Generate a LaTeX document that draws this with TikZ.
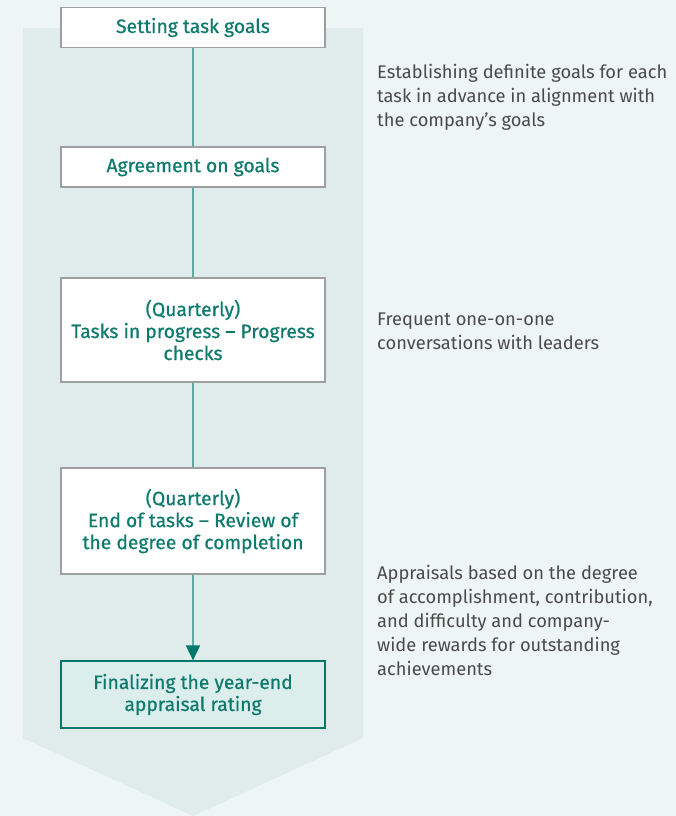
\documentclass[tikz,border=0pt]{standalone}
\usepackage{fontspec}
\setmainfont{Fira Sans}
\newfontfamily\boxfont{Fira Sans}[FakeBold=0.6]
\usetikzlibrary{arrows.meta}
\definecolor{pagebg}{HTML}{EEF6F5}
\definecolor{chevbg}{HTML}{E0ECEB}
\definecolor{tealtxt}{HTML}{0E7A6E}
\definecolor{tealline}{HTML}{5EA9A1}
\definecolor{tealdark}{HTML}{00796B}
\definecolor{finalbg}{HTML}{DCEEEC}
\definecolor{notetxt}{HTML}{4A4A4A}
\tikzset{
  stepbox/.style={draw=gray!75, fill=white, line width=1.2pt, minimum width=264pt, inner sep=2pt, align=center, text=tealtxt, font=\boxfont\fontsize{19.3}{22}\selectfont},
  finalbox/.style={stepbox, draw=tealdark, fill=finalbg},
  note/.style={anchor=west, align=left, text=notetxt, inner sep=0pt, font=\fontsize{18.3}{24}\selectfont},
  link/.style={draw=tealline, line width=1.8pt},
  arr/.style={link, -{Triangle[length=15pt, width=14pt, color=tealdark]}},
}
\begin{document}
\begin{tikzpicture}[x=1pt, y=-1pt]
\useasboundingbox (0,0) rectangle (676,816);
% background and chevron
\fill[pagebg] (0,0) rectangle (676,816);
\fill[chevbg] (23,28) -- (363,28) -- (363,738) -- (193,816) -- (23,738) -- cycle;
% steps
\node[stepbox, minimum height=40pt] (goals) at (193,27.5) {Setting task goals};
\node[stepbox, minimum height=40pt] (agree) at (193,167) {Agreement on goals};
\node[stepbox, minimum height=104pt] (check) at (193,330) {(Quarterly)\\Tasks in progress – Progress\\checks};
\node[stepbox, minimum height=106pt] (review) at (193,521) {(Quarterly)\\End of tasks – Review of\\the degree of completion};
\node[finalbox, minimum height=67pt] (final) at (193,694.5) {Finalizing the year-end\\appraisal rating};
% notes
\node[note] (notegoals) at (377,97) {Establishing definite goals for each\\task in advance in alignment with\\the company’s goals};
\node[note] (notecheck) at (377,331) {Frequent one-on-one\\conversations with leaders};
\node[note] (notefinal) at (377,620.5) {Appraisals based on the degree\\of accomplishment, contribution,\\and difficulty and company-\\wide rewards for outstanding\\achievements};
% connectors
\draw[link] (goals) -- (agree);
\draw[link] (agree) -- (check);
\draw[link] (check) -- (review);
\draw[arr] (review) -- (final);
\end{tikzpicture}
\end{document}
